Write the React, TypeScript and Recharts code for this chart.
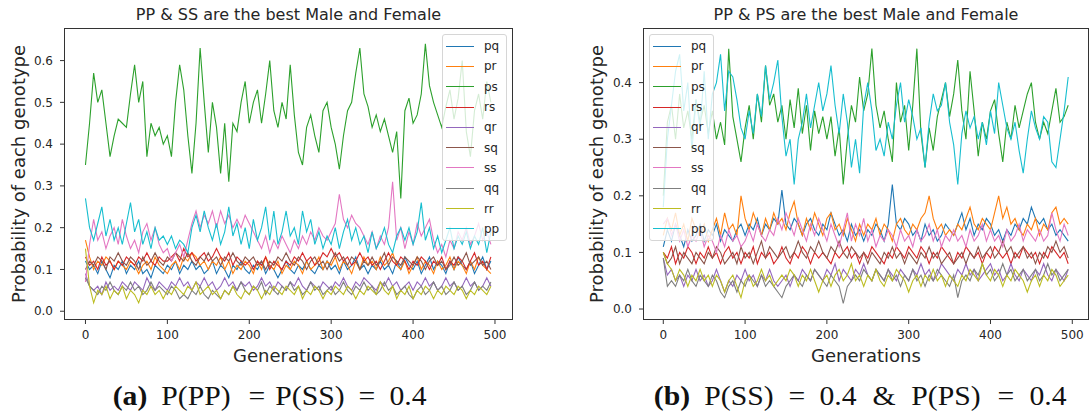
import { LineChart, Line, XAxis, YAxis } from 'recharts';

// generations sampled every 5 steps
const generations = Array.from({ length: 100 }, (_, i) => i * 5);
const genotypes = ['pq', 'pr', 'ps', 'rs', 'qr', 'sq', 'ss', 'qq', 'rr', 'pp'];
const colors = ['#1f77b4', '#ff7f0e', '#2ca02c', '#d62728', '#9467bd', '#8c564b', '#e377c2', '#7f7f7f', '#bcbd22', '#17becf'];
const xTicks = [0, 100, 200, 300, 400, 500];
const leftYTicks = [0, 0.1, 0.2, 0.3, 0.4, 0.5, 0.6];
const rightYTicks = [0, 0.1, 0.2, 0.3, 0.4];

// (a) P(PP) = P(SS) = 0.4
const aPq = [
  0.12, 0.1, 0.11, 0.09, 0.12, 0.1, 0.08, 0.11, 0.1, 0.12,
  0.09, 0.11, 0.1, 0.12, 0.09, 0.1, 0.08, 0.11, 0.1, 0.09,
  0.11, 0.1, 0.12, 0.09, 0.11, 0.1, 0.12, 0.1, 0.11, 0.09,
  0.1, 0.12, 0.09, 0.11, 0.1, 0.08, 0.11, 0.1, 0.12, 0.1,
  0.09, 0.11, 0.1, 0.12, 0.09, 0.11, 0.1, 0.08, 0.1, 0.12,
  0.1, 0.09, 0.11, 0.1, 0.12, 0.1, 0.09, 0.11, 0.1, 0.12,
  0.1, 0.11, 0.09, 0.12, 0.1, 0.11, 0.13, 0.1, 0.11, 0.09,
  0.11, 0.1, 0.12, 0.1, 0.11, 0.09, 0.12, 0.1, 0.13, 0.11,
  0.1, 0.12, 0.09, 0.11, 0.13, 0.1, 0.12, 0.11, 0.09, 0.12,
  0.1, 0.13, 0.11, 0.1, 0.12, 0.09, 0.11, 0.13, 0.1, 0.12,
];
const aPr = [
  0.17, 0.13, 0.1, 0.12, 0.11, 0.13, 0.12, 0.1, 0.12, 0.11,
  0.1, 0.12, 0.11, 0.09, 0.11, 0.12, 0.1, 0.13, 0.11, 0.1,
  0.09, 0.11, 0.12, 0.1, 0.13, 0.12, 0.14, 0.13, 0.11, 0.12,
  0.1, 0.12, 0.11, 0.13, 0.1, 0.12, 0.09, 0.11, 0.1, 0.12,
  0.11, 0.09, 0.12, 0.1, 0.13, 0.11, 0.1, 0.12, 0.09, 0.11,
  0.1, 0.12, 0.11, 0.09, 0.12, 0.1, 0.11, 0.13, 0.1, 0.12,
  0.11, 0.13, 0.1, 0.12, 0.11, 0.09, 0.12, 0.1, 0.13, 0.11,
  0.12, 0.1, 0.13, 0.11, 0.12, 0.14, 0.11, 0.1, 0.12, 0.09,
  0.11, 0.13, 0.1, 0.12, 0.11, 0.09, 0.12, 0.1, 0.11, 0.13,
  0.1, 0.12, 0.11, 0.09, 0.12, 0.1, 0.13, 0.11, 0.1, 0.09,
];
const aPs = [
  0.35, 0.45, 0.57, 0.5, 0.53, 0.45, 0.37, 0.42, 0.46, 0.45,
  0.44, 0.52, 0.59, 0.5, 0.55, 0.37, 0.45, 0.42, 0.44, 0.4,
  0.42, 0.37, 0.5, 0.59, 0.53, 0.42, 0.33, 0.45, 0.63, 0.5,
  0.38, 0.5, 0.44, 0.33, 0.45, 0.31, 0.45, 0.43, 0.5, 0.55,
  0.45, 0.5, 0.53, 0.45, 0.52, 0.6, 0.48, 0.44, 0.5, 0.46,
  0.59, 0.47, 0.38, 0.35, 0.44, 0.47, 0.42, 0.38, 0.48, 0.5,
  0.44, 0.4, 0.34, 0.42, 0.48, 0.5, 0.57, 0.63, 0.52, 0.49,
  0.44, 0.47, 0.43, 0.46, 0.42, 0.38, 0.43, 0.27, 0.48, 0.51,
  0.45, 0.47, 0.52, 0.64, 0.54, 0.5, 0.47, 0.44, 0.49, 0.53,
  0.46, 0.51, 0.6, 0.43, 0.37, 0.48, 0.52, 0.46, 0.55, 0.5,
];
const aRs = [
  0.13, 0.11, 0.12, 0.1, 0.13, 0.11, 0.12, 0.1, 0.12, 0.11,
  0.13, 0.12, 0.11, 0.13, 0.12, 0.14, 0.12, 0.11, 0.13, 0.12,
  0.12, 0.13, 0.14, 0.12, 0.15, 0.13, 0.14, 0.12, 0.13, 0.14,
  0.12, 0.13, 0.15, 0.13, 0.12, 0.14, 0.11, 0.13, 0.12, 0.11,
  0.12, 0.1, 0.12, 0.11, 0.13, 0.1, 0.12, 0.11, 0.1, 0.12,
  0.11, 0.13, 0.12, 0.14, 0.12, 0.13, 0.11, 0.12, 0.14, 0.13,
  0.15, 0.13, 0.14, 0.12, 0.13, 0.11, 0.12, 0.14, 0.12, 0.13,
  0.11, 0.12, 0.1, 0.12, 0.14, 0.12, 0.11, 0.13, 0.12, 0.1,
  0.12, 0.11, 0.13, 0.12, 0.1, 0.12, 0.11, 0.13, 0.1, 0.12,
  0.11, 0.13, 0.12, 0.1, 0.12, 0.14, 0.11, 0.12, 0.1, 0.13,
];
const aQr = [
  0.09, 0.06, 0.05, 0.06, 0.04, 0.07, 0.05, 0.06, 0.05, 0.07,
  0.06, 0.05, 0.07, 0.06, 0.05, 0.08, 0.06, 0.05, 0.07, 0.06,
  0.05, 0.07, 0.06, 0.08, 0.06, 0.07, 0.05, 0.07, 0.06, 0.08,
  0.06, 0.07, 0.05, 0.06, 0.08, 0.06, 0.07, 0.05, 0.07, 0.06,
  0.07, 0.05, 0.06, 0.08, 0.06, 0.07, 0.05, 0.07, 0.06, 0.05,
  0.07, 0.06, 0.08, 0.06, 0.05, 0.07, 0.06, 0.05, 0.07, 0.06,
  0.05, 0.07, 0.06, 0.08, 0.06, 0.05, 0.07, 0.06, 0.08, 0.07,
  0.06, 0.05, 0.07, 0.06, 0.08, 0.06, 0.07, 0.05, 0.06, 0.07,
  0.05, 0.07, 0.06, 0.08, 0.06, 0.07, 0.05, 0.06, 0.08, 0.06,
  0.07, 0.05, 0.06, 0.08, 0.06, 0.07, 0.05, 0.06, 0.08, 0.06,
];
const aSq = [
  0.1, 0.12, 0.11, 0.13, 0.12, 0.1, 0.13, 0.12, 0.14, 0.12,
  0.11, 0.13, 0.12, 0.1, 0.13, 0.11, 0.12, 0.14, 0.12, 0.11,
  0.13, 0.12, 0.14, 0.13, 0.12, 0.14, 0.12, 0.11, 0.13, 0.12,
  0.14, 0.12, 0.13, 0.11, 0.13, 0.12, 0.14, 0.12, 0.11, 0.13,
  0.12, 0.13, 0.11, 0.12, 0.1, 0.12, 0.11, 0.13, 0.12, 0.14,
  0.12, 0.11, 0.13, 0.12, 0.1, 0.12, 0.13, 0.11, 0.12, 0.1,
  0.12, 0.14, 0.12, 0.13, 0.11, 0.13, 0.12, 0.1, 0.12, 0.11,
  0.13, 0.11, 0.12, 0.14, 0.11, 0.13, 0.12, 0.11, 0.13, 0.12,
  0.11, 0.13, 0.12, 0.1, 0.12, 0.13, 0.11, 0.12, 0.1, 0.11,
  0.13, 0.11, 0.12, 0.14, 0.11, 0.12, 0.13, 0.11, 0.12, 0.1,
];
const aSs = [
  0.07, 0.16, 0.22, 0.17, 0.19, 0.15, 0.18, 0.2, 0.16, 0.22,
  0.18, 0.15, 0.17, 0.14, 0.19, 0.21, 0.17, 0.2, 0.16, 0.14,
  0.15, 0.12, 0.14, 0.16, 0.13, 0.17, 0.21, 0.24, 0.2, 0.23,
  0.21, 0.24, 0.2, 0.24, 0.21, 0.23, 0.2, 0.22, 0.2, 0.23,
  0.21, 0.19, 0.17, 0.15, 0.18, 0.14, 0.17, 0.15, 0.18, 0.16,
  0.14, 0.17, 0.15, 0.18, 0.16, 0.19, 0.17, 0.2, 0.18, 0.17,
  0.19, 0.21, 0.28, 0.22, 0.2, 0.23, 0.21, 0.2, 0.18, 0.16,
  0.19, 0.15, 0.18, 0.16, 0.2, 0.31, 0.17, 0.2, 0.15, 0.19,
  0.16, 0.21, 0.18, 0.2, 0.22, 0.17, 0.14, 0.16, 0.13, 0.17,
  0.15, 0.19, 0.17, 0.2, 0.16, 0.18, 0.21, 0.17, 0.19, 0.16,
];
const aQq = [
  0.08, 0.06, 0.05, 0.04, 0.06, 0.05, 0.07, 0.05, 0.04, 0.06,
  0.05, 0.07, 0.05, 0.06, 0.04, 0.05, 0.07, 0.05, 0.06, 0.05,
  0.04, 0.06, 0.05, 0.03, 0.04, 0.03, 0.05, 0.04, 0.06, 0.04,
  0.03, 0.05, 0.04, 0.03, 0.05, 0.04, 0.06, 0.05, 0.07, 0.05,
  0.04, 0.06, 0.05, 0.07, 0.04, 0.06, 0.05, 0.04, 0.06, 0.05,
  0.07, 0.05, 0.06, 0.04, 0.05, 0.07, 0.05, 0.06, 0.04, 0.05,
  0.06, 0.04, 0.05, 0.07, 0.05, 0.04, 0.06, 0.05, 0.07, 0.05,
  0.06, 0.04, 0.05, 0.07, 0.05, 0.06, 0.04, 0.05, 0.06, 0.04,
  0.03, 0.05, 0.06, 0.04, 0.05, 0.07, 0.05, 0.06, 0.04, 0.05,
  0.07, 0.05, 0.06, 0.04, 0.05, 0.07, 0.05, 0.06, 0.05, 0.07,
];
const aRr = [
  0.15, 0.06, 0.02, 0.05, 0.04, 0.06, 0.03, 0.05, 0.04, 0.06,
  0.03, 0.05, 0.04, 0.02, 0.05, 0.04, 0.06, 0.04, 0.05, 0.03,
  0.05, 0.04, 0.06, 0.05, 0.04, 0.06, 0.05, 0.07, 0.04, 0.05,
  0.06, 0.04, 0.05, 0.03, 0.05, 0.04, 0.06, 0.04, 0.03, 0.05,
  0.04, 0.06, 0.05, 0.03, 0.05, 0.04, 0.06, 0.05, 0.04, 0.06,
  0.05, 0.04, 0.06, 0.03, 0.05, 0.04, 0.06, 0.05, 0.03, 0.05,
  0.04, 0.06, 0.05, 0.04, 0.06, 0.05, 0.03, 0.05, 0.04, 0.06,
  0.05, 0.04, 0.07, 0.05, 0.04, 0.06, 0.03, 0.05, 0.04, 0.06,
  0.03, 0.05, 0.04, 0.06, 0.05, 0.03, 0.05, 0.04, 0.06, 0.05,
  0.04, 0.06, 0.05, 0.03, 0.05, 0.04, 0.06, 0.05, 0.04, 0.06,
];
const aPp = [
  0.27, 0.2, 0.17, 0.21, 0.25, 0.18, 0.22, 0.17, 0.2, 0.16,
  0.21, 0.26, 0.19, 0.22, 0.16, 0.19, 0.15, 0.2, 0.17, 0.18,
  0.16, 0.18, 0.15, 0.17, 0.16, 0.14, 0.2, 0.23, 0.19, 0.24,
  0.2, 0.17, 0.21, 0.16, 0.19, 0.25, 0.18, 0.21, 0.16, 0.2,
  0.15, 0.22, 0.17, 0.2, 0.25, 0.17, 0.24, 0.16, 0.19, 0.24,
  0.18, 0.2, 0.16, 0.24, 0.19, 0.22, 0.16, 0.19, 0.15, 0.18,
  0.16, 0.2, 0.15, 0.19, 0.22, 0.17, 0.2, 0.16, 0.18, 0.14,
  0.19, 0.15, 0.17, 0.2, 0.16, 0.14, 0.18, 0.2, 0.17, 0.2,
  0.16, 0.19, 0.26, 0.17, 0.2, 0.15, 0.18, 0.14, 0.17, 0.2,
  0.15, 0.18, 0.16, 0.19, 0.15, 0.18, 0.16, 0.2, 0.14, 0.19,
];

// (b) P(SS) = 0.4 & P(PS) = 0.4
const bPq = [
  0.11, 0.14, 0.12, 0.15, 0.13, 0.11, 0.14, 0.12, 0.13, 0.15,
  0.12, 0.14, 0.13, 0.15, 0.12, 0.14, 0.13, 0.12, 0.14, 0.15,
  0.13, 0.15, 0.14, 0.16, 0.13, 0.15, 0.14, 0.16, 0.15, 0.21,
  0.15, 0.14, 0.16, 0.15, 0.13, 0.15, 0.16, 0.14, 0.13, 0.15,
  0.14, 0.17, 0.15, 0.13, 0.14, 0.12, 0.15, 0.13, 0.14, 0.12,
  0.14, 0.13, 0.15, 0.14, 0.12, 0.15, 0.22, 0.15, 0.14, 0.16,
  0.15, 0.13, 0.14, 0.12, 0.15, 0.13, 0.14, 0.12, 0.13, 0.15,
  0.14, 0.13, 0.15, 0.17, 0.14, 0.16, 0.13, 0.15, 0.14, 0.16,
  0.15, 0.13, 0.14, 0.12, 0.14, 0.13, 0.15, 0.14, 0.16, 0.15,
  0.18, 0.16, 0.15, 0.16, 0.14, 0.15, 0.13, 0.14, 0.13, 0.12,
];
const bPr = [
  0.13, 0.16, 0.14, 0.17, 0.13, 0.15, 0.12, 0.16, 0.14, 0.13,
  0.15, 0.12, 0.14, 0.16, 0.13, 0.17, 0.14, 0.15, 0.13, 0.2,
  0.16, 0.14, 0.17, 0.15, 0.13, 0.16, 0.14, 0.17, 0.15, 0.16,
  0.14, 0.17, 0.19, 0.15, 0.13, 0.16, 0.14, 0.17, 0.15, 0.13,
  0.16, 0.17, 0.14, 0.15, 0.13, 0.16, 0.14, 0.12, 0.15, 0.13,
  0.15, 0.14, 0.16, 0.13, 0.15, 0.14, 0.12, 0.15, 0.16, 0.14,
  0.13, 0.15, 0.14, 0.16, 0.17, 0.2, 0.16, 0.14, 0.15, 0.13,
  0.14, 0.13, 0.15, 0.14, 0.16, 0.18, 0.15, 0.14, 0.16, 0.15,
  0.14, 0.17, 0.2, 0.16, 0.18, 0.15, 0.16, 0.14, 0.13, 0.15,
  0.14, 0.16, 0.13, 0.15, 0.14, 0.17, 0.18, 0.15, 0.16, 0.15,
];
const bPs = [
  0.2, 0.33, 0.36, 0.3, 0.38, 0.32, 0.35, 0.3, 0.37, 0.33,
  0.36, 0.31, 0.35, 0.3, 0.33, 0.29, 0.46, 0.34, 0.3, 0.26,
  0.32, 0.36, 0.3, 0.38, 0.33, 0.43, 0.36, 0.38, 0.33, 0.36,
  0.3, 0.37, 0.32, 0.39, 0.31, 0.36, 0.28, 0.35, 0.31, 0.34,
  0.3, 0.34, 0.27, 0.32, 0.22, 0.3, 0.36, 0.33, 0.41, 0.35,
  0.38, 0.46, 0.36, 0.32, 0.35, 0.3, 0.26, 0.4, 0.33, 0.36,
  0.28, 0.36, 0.46, 0.31, 0.25, 0.32, 0.28, 0.34, 0.37, 0.4,
  0.34, 0.38, 0.44, 0.35, 0.3, 0.42, 0.35, 0.27, 0.33, 0.3,
  0.35, 0.37, 0.31, 0.26, 0.33, 0.3, 0.36, 0.32, 0.35, 0.38,
  0.4, 0.33, 0.3, 0.33, 0.31, 0.35, 0.39, 0.33, 0.34, 0.36,
];
const bRs = [
  0.1, 0.09, 0.11, 0.08, 0.1, 0.09, 0.11, 0.1, 0.08, 0.1,
  0.09, 0.11, 0.09, 0.1, 0.08, 0.1, 0.11, 0.09, 0.1, 0.08,
  0.1, 0.09, 0.11, 0.08, 0.1, 0.09, 0.1, 0.08, 0.09, 0.11,
  0.09, 0.08, 0.1, 0.09, 0.11, 0.1, 0.08, 0.1, 0.09, 0.1,
  0.09, 0.08, 0.1, 0.09, 0.1, 0.11, 0.09, 0.1, 0.08, 0.1,
  0.09, 0.11, 0.1, 0.09, 0.08, 0.1, 0.09, 0.11, 0.1, 0.09,
  0.11, 0.1, 0.09, 0.11, 0.1, 0.08, 0.1, 0.09, 0.11, 0.1,
  0.09, 0.08, 0.1, 0.09, 0.11, 0.1, 0.09, 0.1, 0.08, 0.1,
  0.09, 0.11, 0.1, 0.09, 0.1, 0.08, 0.1, 0.09, 0.11, 0.1,
  0.09, 0.1, 0.08, 0.1, 0.09, 0.11, 0.1, 0.09, 0.1, 0.08,
];
const bQr = [
  0.09, 0.06, 0.07, 0.05, 0.06, 0.04, 0.06, 0.05, 0.07, 0.05,
  0.06, 0.04, 0.05, 0.07, 0.05, 0.03, 0.05, 0.04, 0.06, 0.05,
  0.07, 0.05, 0.06, 0.04, 0.06, 0.05, 0.07, 0.05, 0.04, 0.05,
  0.06, 0.04, 0.06, 0.05, 0.07, 0.06, 0.05, 0.07, 0.06, 0.05,
  0.07, 0.06, 0.08, 0.05, 0.07, 0.06, 0.05, 0.07, 0.06, 0.08,
  0.06, 0.05, 0.07, 0.06, 0.05, 0.07, 0.06, 0.05, 0.07, 0.06,
  0.05, 0.07, 0.06, 0.08, 0.06, 0.07, 0.05, 0.06, 0.08, 0.07,
  0.06, 0.05, 0.07, 0.06, 0.08, 0.06, 0.07, 0.05, 0.06, 0.07,
  0.08, 0.06, 0.07, 0.05, 0.06, 0.08, 0.06, 0.05, 0.07, 0.06,
  0.05, 0.07, 0.06, 0.08, 0.06, 0.05, 0.07, 0.06, 0.05, 0.07,
];
const bSq = [
  0.1, 0.08, 0.09, 0.11, 0.08, 0.1, 0.09, 0.08, 0.1, 0.09,
  0.08, 0.1, 0.09, 0.11, 0.1, 0.08, 0.09, 0.1, 0.08, 0.11,
  0.09, 0.1, 0.08, 0.1, 0.12, 0.09, 0.11, 0.1, 0.09, 0.1,
  0.11, 0.09, 0.1, 0.12, 0.1, 0.09, 0.11, 0.1, 0.12, 0.1,
  0.09, 0.11, 0.1, 0.12, 0.1, 0.09, 0.11, 0.1, 0.09, 0.1,
  0.08, 0.1, 0.09, 0.08, 0.1, 0.09, 0.11, 0.09, 0.1, 0.08,
  0.1, 0.09, 0.08, 0.1, 0.09, 0.11, 0.09, 0.1, 0.08, 0.09,
  0.1, 0.08, 0.09, 0.1, 0.08, 0.1, 0.09, 0.11, 0.09, 0.1,
  0.11, 0.09, 0.1, 0.12, 0.1, 0.11, 0.09, 0.1, 0.11, 0.09,
  0.1, 0.08, 0.1, 0.09, 0.11, 0.1, 0.12, 0.1, 0.11, 0.09,
];
const bSs = [
  0.15, 0.16, 0.13, 0.15, 0.12, 0.14, 0.11, 0.13, 0.12, 0.14,
  0.11, 0.13, 0.12, 0.1, 0.13, 0.11, 0.14, 0.12, 0.13, 0.11,
  0.12, 0.14, 0.12, 0.15, 0.13, 0.12, 0.14, 0.13, 0.16, 0.14,
  0.17, 0.15, 0.13, 0.16, 0.14, 0.12, 0.15, 0.13, 0.16, 0.14,
  0.12, 0.15, 0.13, 0.11, 0.14, 0.17, 0.12, 0.15, 0.13, 0.16,
  0.12, 0.14, 0.11, 0.13, 0.12, 0.14, 0.13, 0.11, 0.14, 0.12,
  0.13, 0.11, 0.14, 0.12, 0.13, 0.15, 0.12, 0.14, 0.11, 0.13,
  0.12, 0.14, 0.12, 0.13, 0.11, 0.14, 0.12, 0.13, 0.15, 0.12,
  0.14, 0.12, 0.13, 0.11, 0.14, 0.12, 0.13, 0.15, 0.12, 0.14,
  0.13, 0.12, 0.14, 0.12, 0.13, 0.17, 0.14, 0.12, 0.15, 0.13,
];
const bQq = [
  0.09, 0.04, 0.05, 0.04, 0.06, 0.05, 0.07, 0.05, 0.04, 0.06,
  0.05, 0.04, 0.06, 0.05, 0.03, 0.02, 0.04, 0.05, 0.03, 0.05,
  0.04, 0.06, 0.05, 0.04, 0.06, 0.04, 0.05, 0.04, 0.03, 0.02,
  0.04, 0.05, 0.06, 0.05, 0.04, 0.06, 0.05, 0.07, 0.06, 0.05,
  0.04, 0.06, 0.05, 0.04, 0.01, 0.04, 0.05, 0.06, 0.05, 0.07,
  0.06, 0.05, 0.07, 0.06, 0.05, 0.07, 0.05, 0.06, 0.04, 0.06,
  0.05, 0.07, 0.05, 0.06, 0.04, 0.06, 0.05, 0.07, 0.06, 0.05,
  0.04, 0.06, 0.02, 0.05, 0.06, 0.05, 0.07, 0.06, 0.08, 0.06,
  0.07, 0.05, 0.06, 0.08, 0.06, 0.07, 0.05, 0.06, 0.07, 0.05,
  0.06, 0.07, 0.05, 0.06, 0.08, 0.06, 0.07, 0.05, 0.06, 0.07,
];
const bRr = [
  0.1, 0.08, 0.07, 0.05, 0.07, 0.06, 0.04, 0.06, 0.05, 0.07,
  0.05, 0.06, 0.04, 0.06, 0.05, 0.03, 0.05, 0.06, 0.04, 0.02,
  0.05, 0.06, 0.04, 0.05, 0.07, 0.05, 0.06, 0.04, 0.05, 0.06,
  0.05, 0.07, 0.06, 0.04, 0.06, 0.05, 0.07, 0.05, 0.03, 0.05,
  0.06, 0.04, 0.06, 0.07, 0.05, 0.06, 0.08, 0.05, 0.06, 0.04,
  0.06, 0.05, 0.07, 0.05, 0.04, 0.06, 0.05, 0.07, 0.06, 0.05,
  0.03, 0.05, 0.06, 0.04, 0.06, 0.05, 0.07, 0.05, 0.06, 0.04,
  0.06, 0.05, 0.04, 0.06, 0.05, 0.07, 0.06, 0.05, 0.08, 0.06,
  0.05, 0.07, 0.06, 0.04, 0.06, 0.05, 0.07, 0.06, 0.05, 0.03,
  0.05, 0.06, 0.04, 0.06, 0.05, 0.07, 0.06, 0.04, 0.05, 0.06,
];
const bPp = [
  0.18, 0.3, 0.36, 0.42, 0.45, 0.35, 0.4, 0.28, 0.37, 0.32,
  0.42, 0.3, 0.38, 0.4, 0.45, 0.35, 0.42, 0.41, 0.37, 0.32,
  0.3, 0.35, 0.31, 0.38, 0.34, 0.43, 0.37, 0.4, 0.44, 0.34,
  0.27, 0.3, 0.22, 0.3, 0.33, 0.38, 0.32, 0.36, 0.4, 0.35,
  0.38, 0.43, 0.36, 0.31, 0.38, 0.33, 0.25, 0.3, 0.24, 0.36,
  0.4, 0.35, 0.28, 0.3, 0.27, 0.33, 0.3, 0.36, 0.4, 0.33,
  0.37, 0.34, 0.3, 0.32, 0.25, 0.33, 0.38, 0.35, 0.36, 0.4,
  0.33, 0.29, 0.22, 0.31, 0.35, 0.32, 0.34, 0.3, 0.33, 0.29,
  0.35, 0.31, 0.4, 0.36, 0.32, 0.3, 0.33, 0.28, 0.24, 0.3,
  0.35, 0.32, 0.3, 0.34, 0.33, 0.26, 0.25, 0.3, 0.35, 0.41,
];

const FONT = '"DejaVu Sans", sans-serif';
const SERIF = '"Liberation Serif", serif';
const INK = '#262626';

function buildRows(series: number[][]) {
  return generations.map((g, i) => {
    const row: Record<string, number> = { gen: g };
    genotypes.forEach((name, k) => {
      row[name] = series[k][i];
    });
    return row;
  });
}

const panelA = buildRows([aPq, aPr, aPs, aRs, aQr, aSq, aSs, aQq, aRr, aPp]);
const panelB = buildRows([bPq, bPr, bPs, bRs, bQr, bSq, bSs, bQq, bRr, bPp]);

// caption pieces, centred at x (LaTeX spacing is wider than the serif font's)
const captionA = [
  { t: '(a)', x: 130, bold: true }, { t: 'P(PP)', x: 196 }, { t: '=', x: 257 },
  { t: 'P(SS)', x: 310 }, { t: '=', x: 367 }, { t: '0.4', x: 408 },
];
const captionB = [
  { t: '(b)', x: 671.5, bold: true }, { t: 'P(SS)', x: 738.5 }, { t: '=', x: 797 },
  { t: '0.4', x: 837.5 }, { t: '&', x: 883.5 }, { t: 'P(PS)', x: 946 },
  { t: '=', x: 1006 }, { t: '0.4', x: 1048 },
];

function GenotypeLegend({ left, top }: { left: number; top: number }) {
  return (
    <div style={{
      position: 'absolute', left, top, width: 65, height: 207, boxSizing: 'border-box',
      background: 'rgba(255,255,255,0.8)', border: '1px solid #d6d6d6', borderRadius: 3,
      padding: '1px 0 0 3px', fontFamily: FONT, fontSize: 12, color: INK,
    }}>
      {genotypes.map((g, i) => (
        <div key={g} style={{ display: 'flex', alignItems: 'center', height: 20.3 }}>
          <span style={{ width: 28, height: 0, borderTop: `1.3px solid ${colors[i]}`, marginRight: 10 }} />
          <span style={{ lineHeight: '12px' }}>{g}</span>
        </div>
      ))}
    </div>
  );
}

type PanelProps = {
  data: Record<string, number>[];
  left: number;
  width: number;
  marginLeft: number;
  marginRight: number;
  xDomain: [number, number];
  yDomain: [number, number];
  yTicks: number[];
};

function Panel({ data, left, width, marginLeft, marginRight, xDomain, yDomain, yTicks }: PanelProps) {
  const tickStyle = { fontSize: 12, fill: INK, fontFamily: FONT };
  return (
    <div style={{ position: 'absolute', left, top: 0 }}>
      <LineChart width={width} height={416} data={data}
        margin={{ top: 28, right: marginRight, bottom: 66, left: marginLeft }}>
        <XAxis dataKey="gen" type="number" domain={xDomain} ticks={xTicks} allowDataOverflow
          height={30} axisLine={false} tickSize={4} tickMargin={6}
          tickLine={{ stroke: '#333' }} tick={tickStyle} />
        <YAxis type="number" domain={yDomain} ticks={yTicks} allowDataOverflow
          width={64} axisLine={false} tickSize={4} tickMargin={7}
          tickLine={{ stroke: '#333' }} tick={tickStyle}
          tickFormatter={(v: number) => v.toFixed(1)} />
        {genotypes.map((g, i) => (
          <Line key={g} dataKey={g} stroke={colors[i]} strokeWidth={1.1} dot={false}
            isAnimationActive={false} />
        ))}
      </LineChart>
    </div>
  );
}

const textBase = { position: 'absolute' as const, whiteSpace: 'nowrap' as const, transform: 'translate(-50%, -50%)' };

function Caption({ parts }: { parts: { t: string; x: number; bold?: boolean }[] }) {
  return (
    <>
      {parts.map((p, i) => (
        <div key={i} style={{
          ...textBase, left: p.x, top: 396, fontFamily: SERIF, fontSize: 27,
          fontWeight: p.bold ? 700 : 400, color: '#111',
          transform: 'translate(-50%, -50%) scaleX(1.1)',
        }}>{p.t}</div>
      ))}
    </>
  );
}

export default function App() {
  return (
    <div style={{ position: 'relative', width: 1089, height: 416, background: '#fff', overflow: 'hidden' }}>
      <style>{'body { margin: 0; }'}</style>

      <Panel data={panelA} left={0} width={545} marginLeft={0} marginRight={32}
        xDomain={[-26.2, 522]} yDomain={[-0.021, 0.678]} yTicks={leftYTicks} />
      <Panel data={panelB} left={545} width={544} marginLeft={34} marginRight={1}
        xDomain={[-24.8, 519.2]} yDomain={[-0.0194, 0.4965]} yTicks={rightYTicks} />

      {/* axes frames */}
      <div style={{ position: 'absolute', left: 64, top: 28, width: 449, height: 292, border: '1px solid #333', boxSizing: 'border-box' }} />
      <div style={{ position: 'absolute', left: 643, top: 28, width: 446, height: 292, border: '1px solid #333', boxSizing: 'border-box' }} />

      <GenotypeLegend left={442} top={34} />
      <GenotypeLegend left={649} top={34} />

      <div style={{ ...textBase, left: 288.5, top: 14, fontFamily: FONT, fontSize: 16, color: INK }}>
        PP &amp; SS are the best Male and Female
      </div>
      <div style={{ ...textBase, left: 866, top: 14, fontFamily: FONT, fontSize: 16, color: INK }}>
        PP &amp; PS are the best Male and Female
      </div>

      <div style={{ ...textBase, left: 288, top: 355, fontFamily: FONT, fontSize: 18, color: INK }}>Generations</div>
      <div style={{ ...textBase, left: 866, top: 355, fontFamily: FONT, fontSize: 18, color: INK }}>Generations</div>

      <div style={{ ...textBase, left: 17.5, top: 174, transform: 'translate(-50%, -50%) rotate(-90deg)', fontFamily: FONT, fontSize: 18, color: INK }}>
        Probability of each genotype
      </div>
      <div style={{ ...textBase, left: 596, top: 174, transform: 'translate(-50%, -50%) rotate(-90deg)', fontFamily: FONT, fontSize: 18, color: INK }}>
        Probability of each genotype
      </div>

      <Caption parts={captionA} />
      <Caption parts={captionB} />
    </div>
  );
}
